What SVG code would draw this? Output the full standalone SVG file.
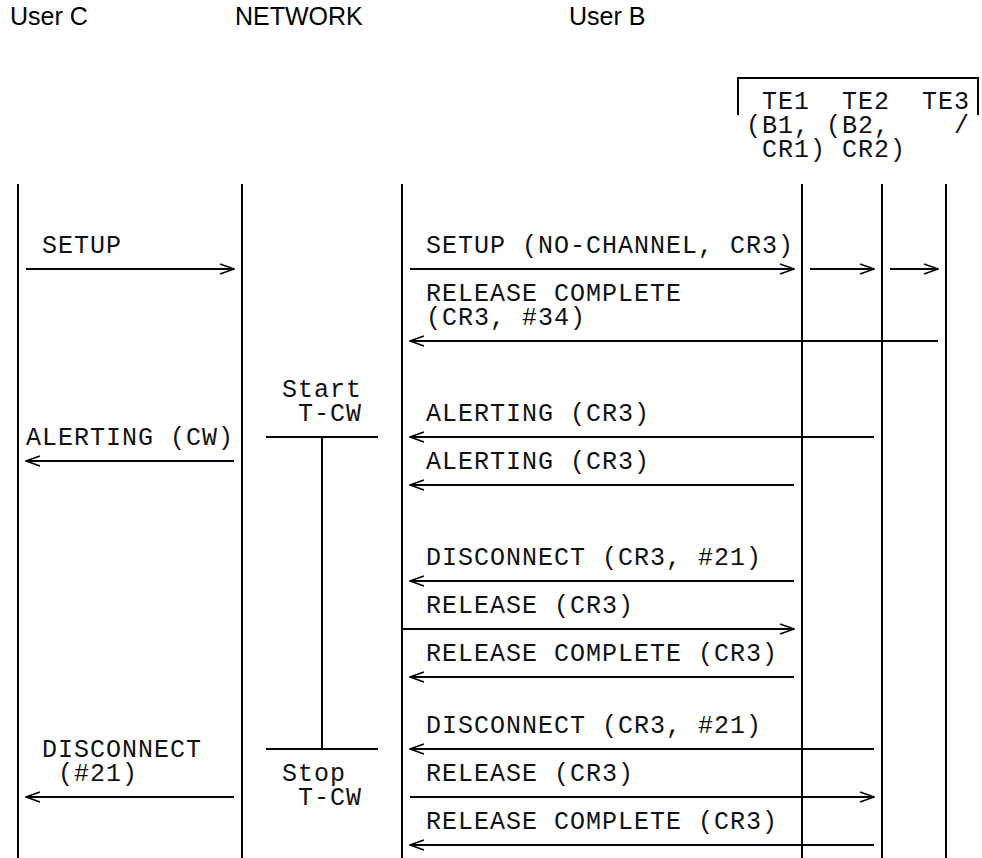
<svg xmlns="http://www.w3.org/2000/svg" width="982" height="858" viewBox="0 0 982 858">
<defs>
<style>
.h{font-family:"Liberation Sans",Arial,sans-serif;font-size:25px;fill:#000}
.m{font-family:"Liberation Mono","Courier New",monospace;font-size:25px;letter-spacing:1px;fill:#111}
.life{stroke:#000;stroke-width:2;fill:none}
.msg{stroke:#000;stroke-width:1.8;fill:none}
.bar{stroke:#000;stroke-width:2;fill:none}
</style>
<marker id="ah" viewBox="0 0 16 12" refX="15" refY="6" markerWidth="16" markerHeight="12" markerUnits="userSpaceOnUse" orient="auto">
<path d="M1,1 L15,6 L1,11" fill="none" stroke="#000" stroke-width="1.5"/>
</marker>
</defs>
<rect width="982" height="858" fill="#fff"/>

<g id="header-user-c"><text class="h" x="10" y="25">User C</text></g>
<g id="header-network"><text class="h" x="235" y="25">NETWORK</text></g>
<g id="header-user-b"><text class="h" x="569" y="25">User B</text></g>

<g id="te-box">
<path class="life" d="M738,115 V78 H978 V115"/>
<text class="m" x="762" y="109">TE1</text>
<text class="m" x="842" y="109">TE2</text>
<text class="m" x="922" y="109">TE3</text>
<text class="m" x="746" y="133">(B1,</text>
<text class="m" x="826" y="133">(B2,</text>
<text class="m" x="954" y="133">/</text>
<text class="m" x="762" y="157">CR1)</text>
<text class="m" x="842" y="157">CR2)</text>
</g>

<g id="lifeline-user-c"><line class="life" x1="18" y1="184" x2="18" y2="858"/></g>
<g id="lifeline-network-left"><line class="life" x1="242" y1="184" x2="242" y2="858"/></g>
<g id="lifeline-network-right"><line class="life" x1="402" y1="184" x2="402" y2="858"/></g>
<g id="lifeline-te1"><line class="life" x1="802" y1="184" x2="802" y2="858"/></g>
<g id="lifeline-te2"><line class="life" x1="882" y1="184" x2="882" y2="858"/></g>
<g id="lifeline-te3"><line class="life" x1="946" y1="184" x2="946" y2="858"/></g>

<g id="timer-tcw">
<text class="m" x="282" y="397">Start</text>
<text class="m" x="298" y="421">T-CW</text>
<line class="bar" x1="266" y1="437" x2="378" y2="437"/>
<line class="bar" x1="322" y1="437" x2="322" y2="749"/>
<line class="bar" x1="266" y1="749" x2="378" y2="749"/>
<text class="m" x="282" y="781">Stop</text>
<text class="m" x="298" y="805">T-CW</text>
</g>

<g id="connectors">
<line class="msg" x1="26" y1="269" x2="234" y2="269" marker-end="url(#ah)"/>
<line class="msg" x1="234" y1="461" x2="26" y2="461" marker-end="url(#ah)"/>
<line class="msg" x1="234" y1="797" x2="26" y2="797" marker-end="url(#ah)"/>

<line class="msg" x1="410" y1="269" x2="794" y2="269" marker-end="url(#ah)"/>
<line class="msg" x1="810" y1="269" x2="874" y2="269" marker-end="url(#ah)"/>
<line class="msg" x1="890" y1="269" x2="938" y2="269" marker-end="url(#ah)"/>
<line class="msg" x1="938" y1="341" x2="410" y2="341" marker-end="url(#ah)"/>
<line class="msg" x1="874" y1="437" x2="410" y2="437" marker-end="url(#ah)"/>
<line class="msg" x1="794" y1="485" x2="410" y2="485" marker-end="url(#ah)"/>
<line class="msg" x1="794" y1="581" x2="410" y2="581" marker-end="url(#ah)"/>
<line class="msg" x1="402" y1="629" x2="794" y2="629" marker-end="url(#ah)"/>
<line class="msg" x1="794" y1="677" x2="410" y2="677" marker-end="url(#ah)"/>
<line class="msg" x1="874" y1="749" x2="410" y2="749" marker-end="url(#ah)"/>
<line class="msg" x1="410" y1="797" x2="874" y2="797" marker-end="url(#ah)"/>
<line class="msg" x1="874" y1="845" x2="410" y2="845" marker-end="url(#ah)"/>
</g>

<g id="labels">
<text class="m" x="42" y="253">SETUP</text>
<text class="m" x="26" y="445">ALERTING (CW)</text>
<text class="m" x="42" y="757">DISCONNECT</text>
<text class="m" x="58" y="781">(#21)</text>

<text class="m" x="426" y="253">SETUP (NO-CHANNEL, CR3)</text>
<text class="m" x="426" y="301">RELEASE COMPLETE</text>
<text class="m" x="426" y="325">(CR3, #34)</text>
<text class="m" x="426" y="421">ALERTING (CR3)</text>
<text class="m" x="426" y="469">ALERTING (CR3)</text>
<text class="m" x="426" y="565">DISCONNECT (CR3, #21)</text>
<text class="m" x="426" y="613">RELEASE (CR3)</text>
<text class="m" x="426" y="661">RELEASE COMPLETE (CR3)</text>
<text class="m" x="426" y="733">DISCONNECT (CR3, #21)</text>
<text class="m" x="426" y="781">RELEASE (CR3)</text>
<text class="m" x="426" y="829">RELEASE COMPLETE (CR3)</text>
</g>
</svg>
